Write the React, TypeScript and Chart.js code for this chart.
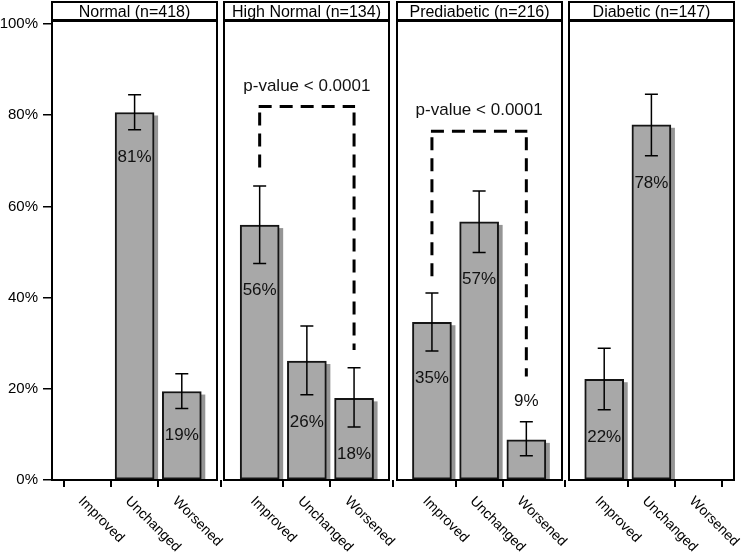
import { useEffect, useRef } from 'react';
import { Chart, registerables } from 'chart.js';

Chart.register(...registerables);

const panelTitles = ['Normal (n=418)', 'High Normal (n=134)', 'Prediabetic (n=216)', 'Diabetic (n=147)'];
const categories = ['Improved', 'Unchanged', 'Worsened'];

const normalPct = [null, 80.6, 19.4];
const highNormalPct = [55.9, 26.1, 17.9];
const prediabeticPct = [34.6, 56.6, 8.8];
const diabeticPct = [22.1, 77.9, null];

const normalLower = [null, 76.8, 15.7];
const normalUpper = [null, 84.5, 23.3];
const highNormalLower = [47.5, 18.7, 11.6];
const highNormalUpper = [64.5, 33.8, 24.6];
const prediabeticLower = [28.3, 49.9, 5.3];
const prediabeticUpper = [41.0, 63.4, 12.8];
const diabeticLower = [15.4, 71.1, null];
const diabeticUpper = [28.9, 84.6, null];

const yTickValues = [0, 20, 40, 60, 80, 100];

// comparison brackets: panel index, top level and leg ends (in %)
const bracketPanels = [1, 2];
const bracketTop = [81.9, 76.5];
const bracketLeftEnd = [68.0, 44.3];
const bracketRightEnd = [28.5, 22.7];
const bracketText = ['p-value < 0.0001', 'p-value < 0.0001'];

const allPct = [normalPct, highNormalPct, prediabeticPct, diabeticPct];
const allLower = [normalLower, highNormalLower, prediabeticLower, diabeticLower];
const allUpper = [normalUpper, highNormalUpper, prediabeticUpper, diabeticUpper];

const STRIDE = 3.65;
const FONT = '"Liberation Sans", Arial, Helvetica, sans-serif';

type Pt = { x: number; y: number; panel: number; cat: number; lo: number; hi: number };

export default function App() {
  const ref = useRef<HTMLCanvasElement | null>(null);

  useEffect(() => {
    if (!ref.current) return;
    const pts: Pt[] = [];
    allPct.forEach((arr, p) => {
      arr.forEach((v, c) => {
        if (v === null) return;
        pts.push({ x: p * STRIDE + c, y: v as number, panel: p, cat: c, lo: allLower[p][c] as number, hi: allUpper[p][c] as number });
      });
    });
    const tickPositions: number[] = [];
    panelTitles.forEach((_, p) => categories.forEach((_, c) => tickPositions.push(p * STRIDE + c)));

    const overlay = {
      id: 'overlay',
      beforeDraw(chart: any) {
        const ctx = chart.ctx;
        ctx.save();
        ctx.fillStyle = '#ffffff';
        ctx.fillRect(0, 0, chart.width, chart.height);
        ctx.restore();
      },
      beforeDatasetsDraw(chart: any) {
        const ctx = chart.ctx;
        const meta = chart.getDatasetMeta(0);
        ctx.save();
        ctx.fillStyle = '#959595';
        meta.data.forEach((el: any) => {
          const w = el.width;
          ctx.fillRect(el.x - w / 2 + 4, el.y + 3, w, el.base - el.y - 3);
        });
        ctx.restore();
      },
      afterDatasetsDraw(chart: any) {
        const ctx = chart.ctx;
        const xs = chart.scales.x;
        const ys = chart.scales.y;
        const area = chart.chartArea;
        const meta = chart.getDatasetMeta(0);
        ctx.save();
        // error bars
        ctx.strokeStyle = '#000';
        ctx.lineWidth = 1.5;
        meta.data.forEach((el: any, i: number) => {
          const pt = pts[i];
          const x = el.x;
          const yl = ys.getPixelForValue(pt.lo);
          const yh = ys.getPixelForValue(pt.hi);
          ctx.beginPath();
          ctx.moveTo(x, yl);
          ctx.lineTo(x, yh);
          ctx.moveTo(x - 6.5, yl);
          ctx.lineTo(x + 6.5, yl);
          ctx.moveTo(x - 6.5, yh);
          ctx.lineTo(x + 6.5, yh);
          ctx.stroke();
        });
        // bar labels
        ctx.fillStyle = '#111';
        ctx.font = `17px ${FONT}`;
        ctx.textAlign = 'center';
        ctx.textBaseline = 'alphabetic';
        meta.data.forEach((el: any, i: number) => {
          const pt = pts[i];
          const label = Math.round(pt.y) + '%';
          let cy;
          if (pt.y < 10) cy = ys.getPixelForValue(pt.hi) - 22;
          else cy = ys.getPixelForValue(pt.lo) + 26;
          ctx.fillText(label, el.x, cy + 6);
        });
        // brackets
        ctx.strokeStyle = '#000';
        ctx.lineWidth = 3;
        ctx.setLineDash([13, 8]);
        bracketPanels.forEach((p, i) => {
          const xl = xs.getPixelForValue(p * STRIDE + 0);
          const xr = xs.getPixelForValue(p * STRIDE + 2);
          const yt = ys.getPixelForValue(bracketTop[i]);
          const yle = ys.getPixelForValue(bracketLeftEnd[i]);
          const yre = ys.getPixelForValue(bracketRightEnd[i]);
          ctx.beginPath();
          ctx.moveTo(xl - 1, yt);
          ctx.lineTo(xr + 1, yt);
          ctx.stroke();
          ctx.lineDashOffset = -6;
          ctx.beginPath();
          ctx.moveTo(xl, yt);
          ctx.lineTo(xl, yle);
          ctx.moveTo(xr, yt);
          ctx.lineTo(xr, yre);
          ctx.stroke();
          ctx.lineDashOffset = 0;
          ctx.save();
          ctx.setLineDash([]);
          ctx.fillStyle = '#111';
          ctx.font = `17px ${FONT}`;
          ctx.textAlign = 'center';
          ctx.fillText(bracketText[i], (xl + xr) / 2, yt - 22 + 6);
          ctx.restore();
        });
        ctx.setLineDash([]);
        // panels and headers
        panelTitles.forEach((title, p) => {
          const l = Math.round(xs.getPixelForValue(p * STRIDE - 0.75));
          const r = Math.round(xs.getPixelForValue(p * STRIDE + 2.75));
          ctx.strokeStyle = '#000';
          ctx.lineWidth = 2;
          ctx.strokeRect(l, 2, r - l, area.bottom - 2);
          ctx.lineWidth = 3;
          ctx.beginPath();
          ctx.moveTo(l - 1, area.top - 0.5);
          ctx.lineTo(r + 1, area.top - 0.5);
          ctx.stroke();
          ctx.fillStyle = '#000';
          ctx.font = `16px ${FONT}`;
          ctx.textAlign = 'center';
          ctx.textBaseline = 'alphabetic';
          ctx.fillText(title, (l + r) / 2, 16.5);
        });
        // rotated category labels
        ctx.font = `14px ${FONT}`;
        ctx.fillStyle = '#000';
        ctx.textAlign = 'left';
        ctx.textBaseline = 'middle';
        tickPositions.forEach((v, i) => {
          const x = xs.getPixelForValue(v);
          ctx.save();
          ctx.translate(x - 7, area.bottom + 19);
          ctx.rotate(Math.PI / 4);
          ctx.fillText(categories[i % 3], 0, 0);
          ctx.restore();
        });
        ctx.restore();
      },
    };

    const chart = new Chart(ref.current, {
      type: 'bar',
      data: {
        datasets: [
          {
            data: pts.map((p) => ({ x: p.x, y: p.y })),
            backgroundColor: '#a8a8a8',
            borderColor: '#151515',
            borderWidth: 2,
            borderSkipped: false,
            barThickness: 39,
          } as any,
        ],
      },
      options: {
        animation: false,
        responsive: false,
        devicePixelRatio: 1,
        layout: { padding: { top: 21, right: 8, left: 0, bottom: 0 } },
        plugins: { legend: { display: false }, tooltip: { enabled: false } },
        scales: {
          x: {
            type: 'linear',
            min: -0.75,
            max: 3 * STRIDE + 2.75,
            offset: false,
            afterBuildTicks: (s: any) => {
              s.ticks = tickPositions.map((v) => ({ value: v }));
            },
            afterFit: (s: any) => {
              s.height = 72;
            },
            grid: { drawOnChartArea: false, drawTicks: true, tickLength: 7, color: '#000', lineWidth: 2 },
            border: { display: false },
            ticks: { display: false },
          },
          y: {
            min: 0,
            max: 100.66,
            afterBuildTicks: (s: any) => {
              s.ticks = yTickValues.map((v) => ({ value: v }));
            },
            afterFit: (s: any) => {
              s.width = 52;
            },
            grid: { drawOnChartArea: false, drawTicks: true, tickLength: 9, color: '#000', lineWidth: 1.5 },
            border: { display: false },
            ticks: {
              callback: (v: any) => v + '%',
              color: '#000',
              padding: 5,
              font: { size: 15, family: FONT },
            },
          },
        },
      } as any,
      plugins: [overlay],
    });
    return () => chart.destroy();
  }, []);

  return (
    <div style={{ position: 'fixed', left: 0, top: 0, width: 742, height: 552, background: '#fff' }}>
      <canvas ref={ref} width={742} height={552} style={{ width: 742, height: 552, display: 'block' }} />
    </div>
  );
}
